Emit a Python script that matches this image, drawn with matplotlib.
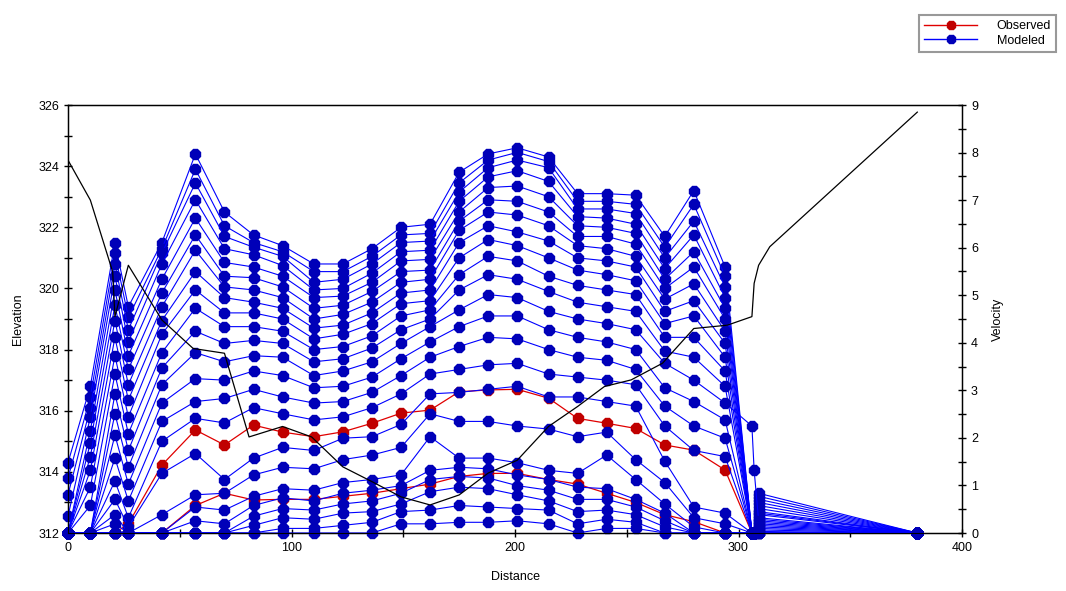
import matplotlib
matplotlib.use('Agg')
import matplotlib.pyplot as plt
from matplotlib.lines import Line2D
from matplotlib.ticker import MultipleLocator

plt.rcParams['font.family'] = ['Liberation Sans', 'DejaVu Sans']

# stations (distance) where the modeled profiles have points
dist = [0, 10, 21, 27, 42, 57, 70, 83, 96, 110, 123, 136, 149, 162, 175, 188,
        201, 215, 228, 241, 254, 267, 280, 294, 306, 307, 309, 380]

# modeled elevations at each station, one value per profile (23 profiles, top to bottom)
z000 = [314.3, 313.8, 313.25, 312.55, 312, 312, 312, 312, 312, 312, 312, 312, 312, 312, 312, 312, 312, 312, 312, 312, 312, 312, 312]
z010 = [316.8, 316.45, 316.1, 315.8, 315.35, 314.95, 314.5, 314.05, 313.5, 312.9, 312, 312, 312, 312, 312, 312, 312, 312, 312, 312, 312, 312, 312]
z021 = [321.5, 321.15, 320.8, 320.4, 319.95, 319.45, 318.95, 318.4, 317.8, 317.2, 316.55, 315.9, 315.2, 314.45, 313.7, 313.1, 312.6, 312.3, 312, 312, 312, 312, 312]
z027 = [319.4, 319.05, 318.65, 318.25, 317.8, 317.35, 316.85, 316.35, 315.8, 315.25, 314.7, 314.15, 313.6, 313.05, 312.5, 312.2, 312, 312, 312, 312, 312, 312, 312]
z042 = [321.5, 321.3, 321.15, 320.8, 320.3, 319.85, 319.4, 318.95, 318.5, 317.9, 317.4, 316.85, 316.25, 315.65, 315.0, 313.95, 312.6, 312, 312, 312, 312, 312, 312]
z057 = [324.4, 323.9, 323.45, 322.9, 322.3, 321.75, 321.25, 320.55, 319.95, 319.35, 318.6, 317.9, 317.05, 316.3, 315.75, 314.6, 313.25, 312.85, 312.4, 312, 312, 312, 312]
z070 = [322.5, 322.05, 321.7, 321.3, 320.85, 320.4, 320.05, 319.7, 319.2, 318.75, 318.2, 317.6, 317.0, 316.4, 315.6, 313.75, 313.3, 312.75, 312.3, 312, 312, 312, 312]
z083 = [321.75, 321.5, 321.35, 321.1, 320.7, 320.35, 319.95, 319.55, 319.2, 318.75, 318.3, 317.8, 317.3, 316.7, 316.1, 314.45, 313.9, 313.2, 312.9, 312.55, 312.25, 312, 312]
z096 = [321.4, 321.2, 321.05, 320.75, 320.4, 320.05, 319.7, 319.35, 319.0, 318.6, 318.2, 317.75, 317.15, 316.45, 315.9, 314.8, 314.15, 313.45, 313.15, 312.8, 312.5, 312.15, 312]
z110 = [320.8, 320.55, 320.2, 319.95, 319.7, 319.35, 319.0, 318.7, 318.35, 318.0, 317.6, 317.15, 316.75, 316.25, 315.7, 314.7, 314.1, 313.4, 313.05, 312.75, 312.45, 312.15, 312]
z123 = [320.8, 320.55, 320.3, 320.0, 319.75, 319.45, 319.15, 318.8, 318.5, 318.1, 317.7, 317.3, 316.8, 316.3, 315.8, 315.1, 314.4, 313.65, 313.3, 312.95, 312.65, 312.25, 312]
z136 = [321.3, 321.05, 320.8, 320.5, 320.2, 319.9, 319.55, 319.2, 318.85, 318.45, 318.05, 317.6, 317.1, 316.6, 316.1, 315.15, 314.55, 313.75, 313.4, 313.05, 312.7, 312.35, 312]
z149 = [322.0, 321.75, 321.5, 321.2, 320.9, 320.55, 320.2, 319.85, 319.5, 319.1, 318.65, 318.2, 317.7, 317.15, 316.55, 315.55, 314.8, 313.9, 313.55, 313.3, 312.95, 312.7, 312.3]
z162 = [322.1, 321.8, 321.55, 321.25, 320.95, 320.6, 320.3, 319.95, 319.6, 319.3, 319.0, 318.75, 318.25, 317.75, 317.2, 316.55, 315.9, 315.15, 314.05, 313.75, 313.35, 312.75, 312.3]
z175 = [323.8, 323.45, 323.15, 322.85, 322.5, 322.2, 321.9, 321.5, 321.0, 320.45, 319.95, 319.3, 318.75, 318.1, 317.35, 316.6, 315.65, 314.45, 314.15, 313.85, 313.5, 312.9, 312.35]
z188 = [324.4, 324.2, 323.95, 323.65, 323.3, 322.9, 322.5, 322.05, 321.6, 321.05, 320.45, 319.8, 319.1, 318.4, 317.5, 316.7, 315.65, 314.45, 314.1, 313.8, 313.45, 312.85, 312.35]
z201 = [324.6, 324.45, 324.2, 323.85, 323.35, 322.85, 322.4, 321.85, 321.4, 320.9, 320.3, 319.7, 319.1, 318.35, 317.55, 316.8, 315.5, 314.3, 313.9, 313.55, 313.25, 312.8, 312.4]
z215 = [324.3, 324.15, 323.95, 323.5, 323.0, 322.5, 322.05, 321.55, 321.0, 320.4, 319.9, 319.25, 318.65, 318.0, 317.2, 316.45, 315.4, 314.05, 313.75, 313.4, 313.05, 312.75, 312.3]
z228 = [323.1, 322.85, 322.6, 322.35, 322.05, 321.7, 321.4, 321.0, 320.6, 320.1, 319.55, 319.0, 318.4, 317.75, 317.1, 316.45, 315.15, 313.95, 313.5, 313.1, 312.7, 312.3, 312]
z241 = [323.1, 322.85, 322.6, 322.3, 322.0, 321.7, 321.3, 320.9, 320.45, 319.95, 319.4, 318.85, 318.25, 317.65, 317.0, 316.3, 315.3, 314.55, 313.45, 313.1, 312.75, 312.45, 312.15]
z254 = [323.05, 322.75, 322.45, 322.1, 321.8, 321.45, 321.05, 320.7, 320.25, 319.8, 319.25, 318.65, 318.0, 317.35, 316.85, 316.15, 314.4, 313.75, 313.1, 312.85, 312.6, 312.35, 312.15]
z267 = [321.7, 321.35, 321.0, 320.65, 320.3, 320.0, 319.65, 319.25, 318.85, 318.4, 317.95, 317.55, 316.75, 316.15, 315.5, 314.35, 313.65, 312.95, 312.65, 312.4, 312.2, 312, 312]
z280 = [323.2, 322.75, 322.2, 321.75, 321.2, 320.7, 320.15, 319.6, 319.1, 318.4, 317.75, 317.0, 316.3, 315.5, 314.7, 312.85, 312.5, 312.2, 312, 312, 312, 312, 312]
z294 = [320.7, 320.4, 320.05, 319.7, 319.35, 319.0, 318.6, 318.2, 317.75, 317.3, 316.8, 316.25, 315.7, 315.1, 314.5, 312.65, 312.3, 312, 312, 312, 312, 312, 312]
z306 = [312, 312, 312, 312, 312, 312, 312, 312, 312, 312, 312, 315.5, 312, 312, 312, 312, 312, 312, 312, 312, 312, 312, 312]
z307 = [312, 312, 312, 312, 312, 312, 312, 312, 312, 312, 312, 314.05, 312, 312, 312, 312, 312, 312, 312, 312, 312, 312, 312]
z309 = [313.3, 313.2, 313.1, 313.0, 312.9, 312.8, 312.7, 312.65, 312.6, 312.5, 312.45, 312.4, 312.35, 312.3, 312.25, 312.2, 312.15, 312.1, 312.05, 312, 312, 312, 312]
z380 = [312, 312, 312, 312, 312, 312, 312, 312, 312, 312, 312, 312, 312, 312, 312, 312, 312, 312, 312, 312, 312, 312, 312]

columns = [z000, z010, z021, z027, z042, z057, z070, z083, z096, z110, z123, z136, z149, z162,
           z175, z188, z201, z215, z228, z241, z254, z267, z280, z294, z306, z307, z309, z380]

# observed water surfaces
obs1_x = [21, 27, 42, 57, 70, 83, 96, 110, 123, 136, 149, 162, 175, 188, 201, 215, 228, 241, 254, 267, 280, 294, 306]
obs1 = [312.0, 312.3, 314.22, 315.37, 314.88, 315.53, 315.3, 315.15, 315.31, 315.59, 315.92, 316.02,
        316.62, 316.68, 316.7, 316.41, 315.75, 315.59, 315.42, 314.88, 314.71, 314.06, 312.0]
obs2_x = [42, 57, 70, 83, 96, 110, 123, 136, 149, 162, 175, 188, 201, 215, 228, 241, 254, 267, 280, 294]
obs2 = [312.0, 312.9, 313.3, 313.08, 313.1, 313.1, 313.2, 313.3, 313.45, 313.6, 313.85, 313.95,
        313.95, 313.75, 313.6, 313.3, 313.0, 312.6, 312.37, 312.0]

# velocity (right axis)
vel_x = [0, 10, 20, 21, 27, 42, 56, 70, 81, 96, 109, 123, 136, 149, 162, 175, 188, 201, 215, 228,
         240, 252, 266, 280, 295, 306, 307, 309, 314, 380]
vel = [7.84, 7.0, 5.49, 4.55, 5.63, 4.48, 3.88, 3.78, 2.02, 2.24, 2.02, 1.39, 1.08, 0.76, 0.59, 0.80,
       1.26, 1.53, 2.24, 2.66, 3.08, 3.22, 3.57, 4.30, 4.37, 4.55, 5.25, 5.63, 6.02, 8.85]

blue_line = '#0000ff'
blue_dot = '#0000b8'
red_line = '#e00000'
red_dot = '#c00000'

fig = plt.figure(figsize=(10.66, 5.91), dpi=100)
ax = fig.add_axes([68/1066, 1 - 533/591, (962-68)/1066, (533-105)/591])

# observed (drawn first, modeled dots sit on top)
for ox, oy in [(obs1_x, obs1), (obs2_x, obs2)]:
    ax.plot(ox, oy, color=red_line, lw=0.9, marker='8', ms=7.5,
            mfc=red_dot, mec=red_dot, clip_on=False, zorder=2)

# modeled profiles
for i in range(len(z000)):
    prof = [col[i] for col in columns]
    ax.plot(dist, prof, color=blue_line, lw=0.8, marker='8', ms=7.5,
            mfc=blue_dot, mec=blue_dot, clip_on=False, zorder=3)

ax.set_xlim(0, 400)
ax.set_ylim(312, 326)
ax.xaxis.set_major_locator(MultipleLocator(100))
ax.xaxis.set_minor_locator(MultipleLocator(50))
ax.yaxis.set_major_locator(MultipleLocator(2))
ax.yaxis.set_minor_locator(MultipleLocator(1))
ax.tick_params(which='both', direction='inout', length=6, width=1, labelsize=9)
ax.set_xlabel('Distance', fontsize=9, labelpad=12)
ax.set_ylabel('Elevation', fontsize=9, labelpad=10)
for s in ax.spines.values():
    s.set_linewidth(1)

ax2 = ax.twinx()
ax2.plot(vel_x, vel, color='black', lw=0.9, zorder=5)
ax2.set_ylim(0, 9)
ax2.yaxis.set_major_locator(MultipleLocator(1))
ax2.yaxis.set_minor_locator(MultipleLocator(0.5))
ax2.tick_params(which='both', direction='inout', length=6, width=1, labelsize=9)
ax2.set_ylabel('Velocity', fontsize=9, labelpad=10)

handles = [
    Line2D([], [], color=red_line, lw=1, marker='8', ms=7, mfc=red_dot, mec=red_dot),
    Line2D([], [], color=blue_line, lw=1, marker='8', ms=7, mfc=blue_dot, mec=blue_dot),
]
leg = fig.legend(handles, ['Observed', 'Modeled'], loc='upper left',
                 bbox_to_anchor=(913/1066, 1 - 9/591), fontsize=9, frameon=True,
                 fancybox=False, handlelength=4.2, handletextpad=1.6,
                 borderpad=0.4, labelspacing=0.2)
leg.get_frame().set_edgecolor('#808080')
leg.get_frame().set_linewidth(1.5)

fig.savefig('out.png', dpi=100)
